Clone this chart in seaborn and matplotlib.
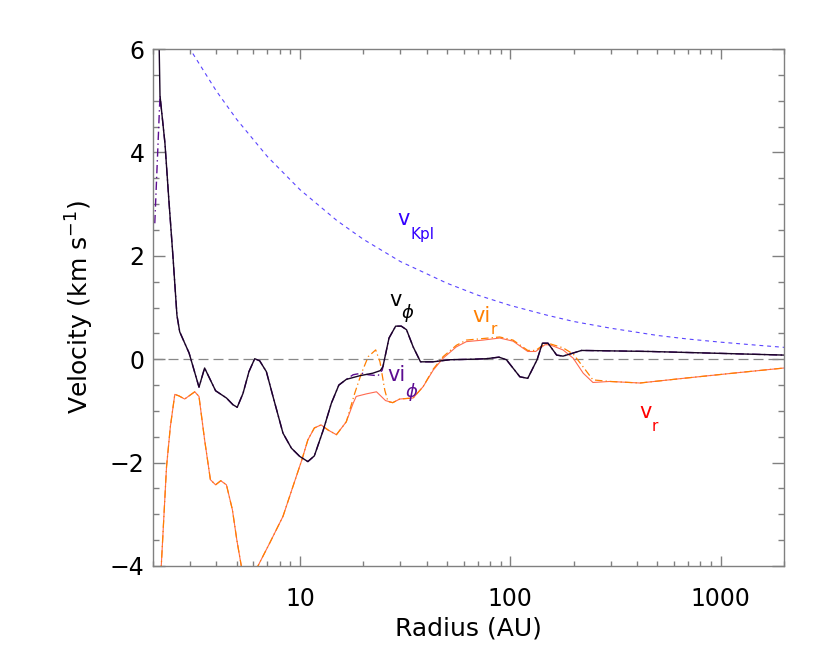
import numpy as np
import pandas as pd
import matplotlib
matplotlib.use("Agg")
import matplotlib.pyplot as plt
import seaborn as sns

# radius (AU) and velocities (km/s)
r_phi = [2.08, 2.16, 2.28, 2.38, 2.49, 2.60, 2.68, 2.97, 3.31, 3.52, 3.97, 4.47, 4.80, 5.03,
         5.36, 5.72, 6.09, 6.43, 6.92, 7.44, 8.30, 9.10, 9.97, 10.9, 11.7, 12.9, 14.1, 15.3,
         16.6, 19.2, 22.2, 24.1, 24.8, 26.5, 28.5, 30.3, 32.1, 34.5, 37.4, 43.0, 51.5, 66.5,
         76.9, 88.3, 95.8, 111, 121, 134, 142, 151, 166, 178, 199, 218, 460, 2000]
v_phi = [9.0, 5.1, 4.18, 3.08, 1.98, 0.85, 0.53, 0.12, -0.54, -0.17, -0.61, -0.75, -0.88, -0.93,
         -0.66, -0.24, 0.01, -0.03, -0.24, -0.72, -1.43, -1.72, -1.88, -1.98, -1.87, -1.37, -0.85, -0.50,
         -0.39, -0.32, -0.27, -0.22, -0.14, 0.41, 0.64, 0.64, 0.57, 0.24, -0.05, -0.05, -0.01, 0.0,
         0.01, 0.04, -0.01, -0.34, -0.37, -0.01, 0.31, 0.31, 0.08, 0.06, 0.12, 0.17, 0.15, 0.08]

r_iphi = [2.04, 2.16, 2.28, 2.38, 2.49, 2.60, 2.68, 2.97, 3.31, 3.52, 3.97, 4.47, 4.80, 5.03,
          5.36, 5.72, 6.09, 6.43, 6.92, 7.44, 8.30, 9.10, 9.97, 10.9, 11.7, 12.9, 14.1, 15.3,
          16.6, 17.9, 19.6, 21.1, 23.5, 24.6, 26.5, 28.5, 30.3, 32.1, 34.5, 37.4, 43.0, 51.5, 66.5,
          76.9, 88.3, 95.8, 111, 121, 134, 142, 151, 166, 178, 199, 218, 460, 2000]
vi_phi = [2.63, 5.1, 4.18, 3.08, 1.98, 0.85, 0.53, 0.12, -0.54, -0.17, -0.61, -0.75, -0.88, -0.93,
          -0.66, -0.24, 0.01, -0.03, -0.24, -0.72, -1.43, -1.72, -1.88, -1.98, -1.87, -1.37, -0.85, -0.50,
          -0.39, -0.30, -0.27, -0.30, -0.32, -0.21, 0.41, 0.64, 0.64, 0.57, 0.24, -0.05, -0.05, -0.01, 0.0,
          0.01, 0.04, -0.01, -0.34, -0.37, -0.01, 0.31, 0.31, 0.08, 0.06, 0.12, 0.17, 0.15, 0.08]

r_r = [2.15, 2.19, 2.32, 2.42, 2.54, 2.66, 2.83, 3.16, 3.31, 3.52, 3.75, 3.97, 4.20, 4.47,
       4.77, 5.01, 5.26, 5.7, 6.31, 7.17, 8.30, 9.26, 10.2, 10.9, 11.7, 12.6, 13.6, 14.9,
       16.6, 17.9, 18.5, 20.7, 23.1, 25.5, 27.6, 29.8, 34.5, 38.5, 43.0, 47.9, 55.4, 61.8,
       74.1, 89, 103, 121, 132, 146, 154, 178, 199, 222, 247, 297, 413, 663, 1145, 2000]
v_r = [-5.0, -4.0, -2.08, -1.30, -0.68, -0.71, -0.77, -0.63, -0.72, -1.56, -2.33, -2.43, -2.35, -2.43,
       -2.91, -3.50, -4.0, -4.7, -4.0, -3.56, -3.04, -2.46, -1.95, -1.56, -1.33, -1.27, -1.37, -1.46,
       -1.21, -0.85, -0.72, -0.67, -0.63, -0.80, -0.84, -0.77, -0.75, -0.53, -0.21, 0.02, 0.24, 0.34,
       0.37, 0.41, 0.35, 0.15, 0.15, 0.28, 0.28, 0.18, 0.02, -0.27, -0.45, -0.43, -0.46, -0.37, -0.27, -0.17]

r_ir = [2.15, 2.19, 2.32, 2.42, 2.54, 2.66, 2.83, 3.16, 3.31, 3.52, 3.75, 3.97, 4.20, 4.47,
        4.77, 5.01, 5.26, 5.7, 6.31, 7.17, 8.30, 9.26, 10.2, 10.9, 11.7, 12.6, 13.6, 14.9,
        16.6, 18.2, 19.6, 21.1, 22.9, 24.0, 25.3, 26.2, 27.6, 29.8, 34.5, 38.5, 43.0, 47.9, 55.4, 61.8,
        74.1, 89, 103, 121, 132, 146, 154, 178, 199, 222, 247, 297, 413, 663, 1145, 2000]
vi_r = [-5.0, -4.0, -2.08, -1.30, -0.68, -0.71, -0.77, -0.63, -0.72, -1.56, -2.33, -2.43, -2.35, -2.43,
        -2.91, -3.50, -4.0, -4.7, -4.0, -3.56, -3.04, -2.46, -1.95, -1.56, -1.33, -1.27, -1.37, -1.46,
        -1.21, -0.66, -0.27, 0.05, 0.18, -0.05, -0.60, -0.82, -0.84, -0.77, -0.75, -0.53, -0.19, 0.05, 0.27, 0.37,
        0.40, 0.43, 0.37, 0.17, 0.17, 0.30, 0.30, 0.22, 0.10, -0.15, -0.40, -0.43, -0.46, -0.37, -0.27, -0.17]

r_kpl = [2.0, 2.5, 3, 4, 5, 7, 10, 15, 20, 30, 50, 70, 100, 150, 200, 300, 500, 700, 1000, 1500, 2000]
v_kpl = [7.35, 6.57, 6.0, 5.19, 4.64, 3.92, 3.28, 2.68, 2.32, 1.89, 1.47, 1.24, 1.04, 0.85, 0.73,
         0.60, 0.46, 0.39, 0.33, 0.27, 0.23]

blue = '#3300ff'
purple = '#5c0d91'
orange = '#ff7f00'
red = '#ff0000'

# plain matplotlib look (IDL-like frame), no seaborn theme
plt.rcParams.update({
    'font.family': ['DejaVu Sans'],
    'mathtext.fontset': 'dejavusans',
    'xtick.bottom': True, 'xtick.top': True, 'ytick.left': True, 'ytick.right': True,
    'xtick.direction': 'in', 'ytick.direction': 'in',
    'xtick.major.size': 7.2, 'xtick.minor.size': 3.6,
    'ytick.major.size': 8.6, 'ytick.minor.size': 4.3,
    'xtick.major.width': 1.0, 'xtick.minor.width': 1.0,
    'ytick.major.width': 1.0, 'ytick.minor.width': 1.0,
    'xtick.color': '#808080', 'ytick.color': '#808080',
    'xtick.labelcolor': 'black', 'ytick.labelcolor': 'black',
    'xtick.labelsize': 17, 'ytick.labelsize': 17,
    'xtick.major.pad': 15, 'ytick.major.pad': 6,
    'axes.edgecolor': '#808080', 'axes.linewidth': 1.0,
})

fig = plt.figure(figsize=(8.3, 6.64), dpi=100)
ax = fig.add_axes([0.1843, 0.1476, 0.7603, 0.7785])

ax.axhline(0, color='#888888', lw=0.9, dashes=(8, 4))

sns.lineplot(x=r_kpl, y=v_kpl, color='#5a44ff', lw=0.8, linestyle=(0, (3.5, 3.5)), sort=False, ax=ax)
sns.lineplot(x=r_r, y=v_r, color='#ff6a50', lw=0.8, sort=False, ax=ax)
sns.lineplot(x=r_ir, y=vi_r, color=orange, lw=0.9, linestyle=(0, (6, 2.5, 1, 2.5)), sort=False, ax=ax)
sns.lineplot(x=r_iphi, y=vi_phi, color=purple, lw=1.0, linestyle=(0, (6, 2.5, 1, 2.5)), sort=False, ax=ax)
sns.lineplot(x=r_phi, y=v_phi, color='#1a0526', lw=1.0, sort=False, ax=ax)

ax.set_xscale('log')
ax.set_xlim(2, 2000)
ax.set_ylim(-4, 6)
ax.set_yticks([-4, -2, 0, 2, 4, 6])
ax.set_yticks(np.arange(-4, 6.01, 0.5), minor=True)
ax.set_xticks([10, 100, 1000])
ax.set_xticklabels(['10', '100', '1000'])
minor_x = [m * 10 ** d for d in range(0, 4) for m in range(2, 10) if 2 <= m * 10 ** d <= 2000]
ax.set_xticks(minor_x, minor=True)
ax.set_xticklabels([''] * len(minor_x), minor=True)

ax.set_xlabel('Radius (AU)', fontsize=18, labelpad=4, color='black')
ax.set_ylabel('Velocity (km s$^{-1}$)', fontsize=18, labelpad=10, color='black')

# curve labels
ax.text(31.1, 2.71, 'v', color=blue, fontsize=15, ha='center', va='center')
ax.text(38.3, 2.42, 'Kpl', color=blue, fontsize=11, ha='center', va='center')
ax.text(28.5, 1.15, 'v', color='black', fontsize=15, ha='center', va='center')
ax.text(32.5, 0.90, r'$\phi$', color='black', fontsize=13, ha='center', va='center')
ax.text(73.1, 0.84, 'vi', color=orange, fontsize=15, ha='center', va='center')
ax.text(83.4, 0.57, 'r', color=orange, fontsize=11, ha='center', va='center')
ax.text(28.8, -0.30, 'vi', color=purple, fontsize=15, ha='center', va='center')
ax.text(34.0, -0.63, r'$\phi$', color=purple, fontsize=13, ha='center', va='center')
ax.text(441, -1.02, 'v', color=red, fontsize=15, ha='center', va='center')
ax.text(486, -1.31, 'r', color=red, fontsize=11, ha='center', va='center')

fig.savefig('out.png', dpi=100)
